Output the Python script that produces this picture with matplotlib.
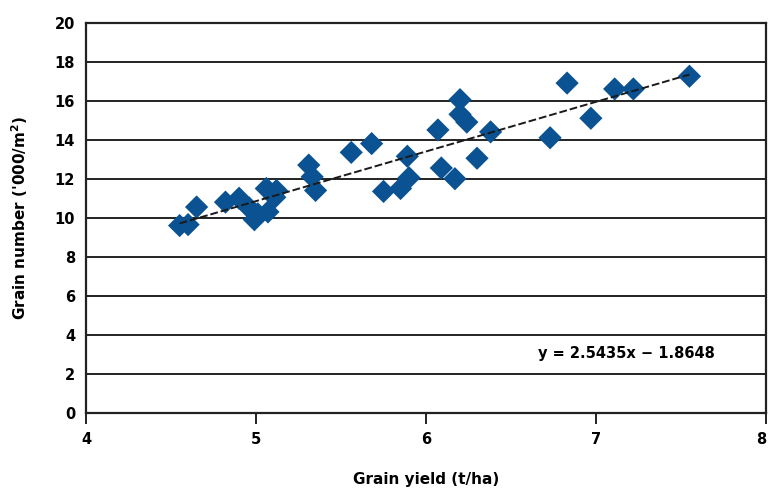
import matplotlib
matplotlib.use("Agg")
import matplotlib.pyplot as plt
import numpy as np

# ─── Data ─────────────────────────────────────────────────────────────────
grain_yield = [4.55, 4.60, 4.65, 4.82, 4.90, 4.96, 4.99, 5.01, 5.07, 5.06,
               5.12, 5.11, 5.31, 5.33, 5.35, 5.56, 5.68, 5.75, 5.85, 5.89,
               5.90, 6.07, 6.09, 6.17, 6.20, 6.20, 6.24, 6.30, 6.38, 6.73,
               6.83, 6.97, 7.11, 7.22, 7.55]
grain_number = [9.6, 9.65, 10.55, 10.8, 11.0, 10.5, 9.9, 10.2, 10.3, 11.5,
                11.4, 11.05, 12.7, 12.1, 11.4, 13.35, 13.8, 11.35, 11.5, 13.15,
                12.05, 14.5, 12.55, 12.0, 16.05, 15.3, 14.9, 13.05, 14.4, 14.1,
                16.9, 15.1, 16.6, 16.6, 17.25]

slope, intercept = 2.5435, -1.8648
eq_label = "y = 2.5435x \u2212 1.8648"

x_ticks = [4, 5, 6, 7, 8]
y_ticks = list(range(0, 21, 2))

# ─── Figure ───────────────────────────────────────────────────────────────
plt.rcParams["font.family"] = ["DejaVu Sans"]
plt.rcParams["font.weight"] = "bold"

fig = plt.figure(figsize=(7.69, 4.91), dpi=100)
ax = fig.add_axes([0.112, 0.159, 0.884, 0.795])

ax.set_xlim(4, 8)
ax.set_ylim(0, 20)
ax.set_xticks(x_ticks)
ax.set_yticks(y_ticks)

for y in y_ticks:
    ax.axhline(y, color="#222222", lw=1.4, zorder=1)

for s in ax.spines.values():
    s.set_color("#222222")
    s.set_linewidth(1.6)

ax.tick_params(axis="x", direction="out", length=8, width=1.4,
               color="#222222", labelsize=10.5, pad=6)
ax.tick_params(axis="y", length=0, labelsize=10.5, pad=8)
# last x label sits on the figure edge; pull it inside
ax.get_xticklabels()[-1].set_ha("right")

ax.scatter(grain_yield, grain_number, marker="D", s=140,
           color="#0a5291", edgecolors="none", zorder=3)

xs = np.array([min(grain_yield), max(grain_yield)])
ax.plot(xs, slope * xs + intercept, color="#1a1a1a", lw=1.4,
        dashes=(4, 1.5), zorder=4)

ax.text(7.18, 3.05, eq_label, ha="center", va="center",
        fontsize=10.5, fontweight="bold")

ax.set_xlabel("Grain yield (t/ha)", fontsize=11, fontweight="bold",
              labelpad=18)
ax.set_ylabel("Grain number ('000/m$^2$)", fontsize=11, fontweight="bold",
              labelpad=18)

plt.savefig("out.png", dpi=100)
plt.close()
